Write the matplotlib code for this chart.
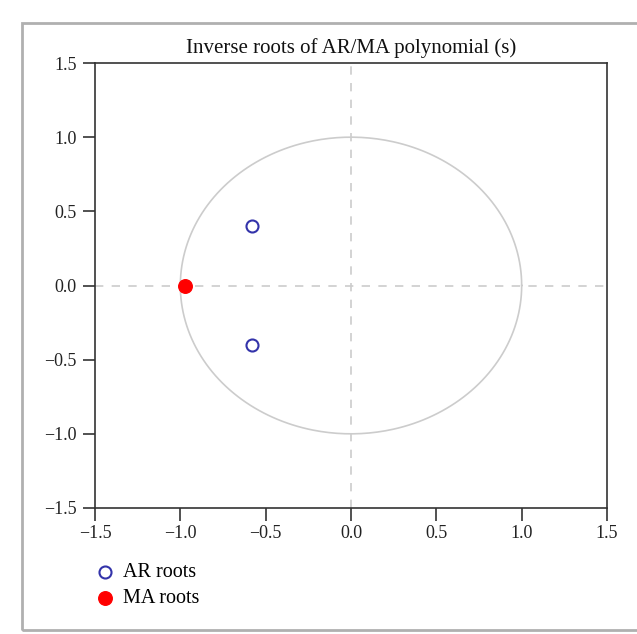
import matplotlib
matplotlib.use("Agg")
import matplotlib.pyplot as plt
from matplotlib.patches import Rectangle
import numpy as np

title = "Inverse roots of AR/MA polynomial (s)"
ar_re = [-0.58, -0.58]
ar_im = [0.40, -0.40]
ma_re = [-0.97]
ma_im = [0.0]
ticks = [-1.5, -1.0, -0.5, 0.0, 0.5, 1.0, 1.5]
tick_labels = ["\u22121.5", "\u22121.0", "\u22120.5", "0.0", "0.5", "1.0", "1.5"]
legend_labels = ["AR roots", "MA roots"]

plt.rcParams['font.family'] = ['Liberation Serif', 'DejaVu Serif']

W, H = 637, 634
fig = plt.figure(figsize=(W / 100, H / 100), dpi=100)
fig.patch.set_facecolor('white')

# outer frame
fig.patches.append(Rectangle((22 / W, 1 - 630 / H), (W - 20) / W, (630 - 23) / H,
                             transform=fig.transFigure, fill=False,
                             edgecolor='#b0b0b0', lw=2.0, zorder=0))

ax = fig.add_axes([95 / W, 1 - 508 / H, (607 - 95) / W, (508 - 63) / H])

theta = np.linspace(0, 2 * np.pi, 400)
ax.plot(np.cos(theta), np.sin(theta), color='#cccccc', lw=1.2, zorder=1)
ax.axhline(0, color='#cccccc', lw=1.2, ls=(0, (5, 5)), zorder=1)
ax.axvline(0, color='#cccccc', lw=1.2, ls=(0, (5, 5)), zorder=1)

ar = ax.scatter(ar_re, ar_im, s=75, facecolors='white', edgecolors='#3333aa',
                linewidths=1.5, zorder=3)
ma = ax.scatter(ma_re, ma_im, s=95, color='#ff0000', zorder=3)

ax.set_xlim(-1.5, 1.5)
ax.set_ylim(-1.5, 1.5)
ax.set_xticks(ticks)
ax.set_xticklabels(tick_labels)
ax.set_yticks(ticks)
ax.set_yticklabels(tick_labels)
ax.tick_params(direction='out', length=9, width=1.1, labelsize=13, colors='#222222')
ax.tick_params(axis='y', pad=4)
ax.tick_params(axis='x', pad=3.5)
for s in ax.spines.values():
    s.set_linewidth(1.2)
    s.set_color('#333333')
ax.set_title(title, fontsize=15, pad=7, color='#111111')

fig.legend([ar, ma], legend_labels, loc='upper left',
           bbox_to_anchor=(85 / W, 1 - 555 / H), frameon=False,
           fontsize=14.5, handletextpad=0.3, labelspacing=0.35,
           borderaxespad=0, handlelength=1.2)

fig.savefig("out.png", dpi=100)
